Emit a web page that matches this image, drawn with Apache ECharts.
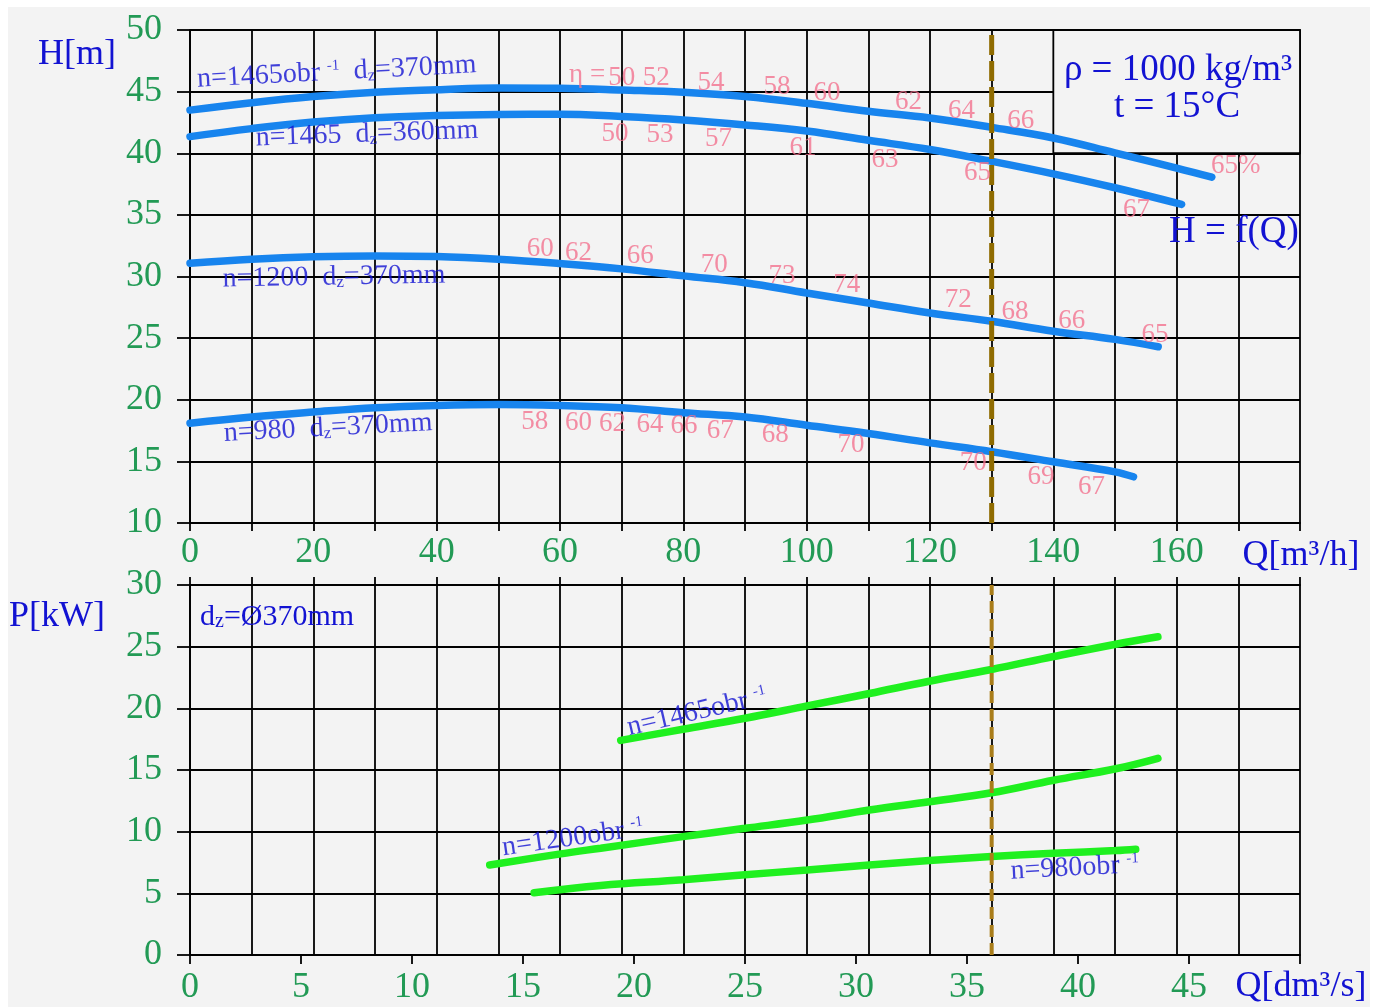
<!DOCTYPE html>
<html>
<head>
<meta charset="utf-8">
<script src="https://cdn.jsdelivr.net/npm/echarts@6/dist/echarts.min.js"></script>
<style>
  html, body { margin: 0; padding: 0; background: #ffffff; }
  #chart { position: absolute; left: 8px; top: 7px; width: 1362px; height: 1000px; background: #f3f3f3; }
</style>
</head>
<body>
<div id="chart"></div>
<script>
// head curves H = f(Q), Q in m3/h
const headQ1465d370 = [0, 10, 20, 30, 40, 50, 60, 70, 80, 90, 100, 110, 120, 130, 140, 150, 160, 165.7]
const headH1465d370 = [43.5, 44.1, 44.6, 44.95, 45.15, 45.3, 45.27, 45.13, 44.95, 44.6, 44.05, 43.4, 42.86, 42.1, 41.24, 40.03, 38.8, 38.06]
const headQ1465d360 = [0, 10, 20, 30, 40, 50, 60, 70, 80, 90, 100, 110, 120, 130, 140, 150, 160.8]
const headH1465d360 = [41.35, 42.0, 42.53, 42.88, 43.06, 43.15, 43.17, 42.98, 42.7, 42.3, 41.8, 41.05, 40.3, 39.35, 38.33, 37.2, 35.85]
const headQ1200 = [0, 10, 20, 30, 40, 50, 60, 70, 80, 90, 100, 110, 120, 130, 140, 150, 157]
const headH1200 = [31.08, 31.4, 31.6, 31.67, 31.62, 31.4, 31.05, 30.62, 30.05, 29.5, 28.66, 27.85, 27.04, 26.37, 25.56, 24.9, 24.3]
const headQ980 = [0, 10, 20, 30, 40, 50, 60, 70, 80, 90, 100, 110, 120, 130, 140, 150, 153]
const headH980 = [18.1, 18.6, 19.0, 19.35, 19.54, 19.62, 19.54, 19.35, 18.95, 18.6, 17.93, 17.26, 16.5, 15.78, 14.97, 14.15, 13.75]

// power curves P = f(Q), Q in dm3/s
const powerQ1465 = [19.4, 22.2, 25, 27.8, 30.6, 33.3, 36.1, 38.9, 41.7, 43.6]
const powerP1465 = [17.4, 18.3, 19.2, 20.2, 21.2, 22.2, 23.15, 24.2, 25.2, 25.8]
const powerQ1200 = [13.5, 16.7, 18.5, 22.2, 25, 27.8, 30.6, 33.3, 36.1, 38.9, 41.7, 43.6]
const powerP1200 = [7.3, 8.2, 8.66, 9.6, 10.27, 10.94, 11.75, 12.42, 13.15, 14.17, 15.1, 15.95]
const powerQ980 = [15.5, 18.5, 22.2, 25, 27.8, 30.6, 33.3, 36.1, 38.9, 41.7, 42.6]
const powerP980 = [5.05, 5.64, 6.1, 6.5, 6.9, 7.3, 7.66, 7.98, 8.25, 8.47, 8.58]

// efficiency marks [Q, H, text]
const etaLabels = [
  [64.4, 46.35, 'η ='], [70, 46.08, '50'], [75.6, 46.08, '52'], [84.5, 45.68, '54'], [95.2, 45.4, '58'],
  [103.3, 44.86, '60'], [116.5, 44.15, '62'], [125.1, 43.45, '64'], [134.7, 42.59, '66'], [169.6, 38.95, '65%'],
  [68.9, 41.54, '50'], [76.2, 41.49, '53'], [85.7, 41.16, '57'], [99.4, 40.4, '61'], [112.7, 39.46, '63'],
  [127.7, 38.41, '65'], [153.5, 35.44, '67'],
  [56.8, 32.21, '60'], [63, 31.94, '62'], [73, 31.67, '66'], [85, 30.95, '70'], [96, 30.05, '73'],
  [106.5, 29.35, '74'], [124.6, 28.1, '72'], [133.8, 27.12, '68'], [143, 26.37, '66'], [156.5, 25.3, '65'],
  [55.9, 18.2, '58'], [63, 18.1, '60'], [68.5, 18.06, '62'], [74.6, 17.92, '64'], [80.1, 17.85, '66'],
  [86, 17.5, '67'], [94.9, 17.12, '68'], [107.2, 16.32, '70'], [127, 14.84, '70'], [138, 13.76, '69'],
  [146.2, 12.96, '67'],
]

// curve names [Q, value, rich text, rotate]
const headCurveNames = [
  [23.8, 46.58, 'n=1465obr {sup|-1}  d{sub|z}=370mm', 3],
  [28.7, 41.55, 'n=1465  d{sub|z}=360mm', 2],
  [23.35, 29.95, 'n=1200  d{sub|z}=370mm', 1],
  [22.4, 17.7, 'n=980  d{sub|z}=370mm', 3],
]
const powerCurveNames = [
  [22.84, 19.7, 'n=1465obr {sup|-1}', 13],
  [17.25, 9.49, 'n=1200obr {sup|-1}', 8],
  [39.86, 7.06, 'n=980obr {sup|-1}', 3],
]

const dutyQ = 130

const font = 'Liberation Serif'
const tickGreen = '#229a55'
const textBlue = '#1212d2'
const curveBlue = '#1784ee'
const powerGreen = '#1ff01f'
const etaPink = '#f2728f'
const gridBlack = '#000000'

const zip = (xs, ys) => xs.map((x, i) => [x, ys[i]])

const richStyles = {
  sup: { fontFamily: font, fontSize: 15, color: textBlue, verticalAlign: 'top', padding: [0, 0, 9, 0] },
  sub: { fontFamily: font, fontSize: 17, color: textBlue, verticalAlign: 'bottom', padding: [8, 0, 0, 0] },
}

function headLine(q, h) {
  return {
    type: 'line', xAxisIndex: 0, yAxisIndex: 0, data: zip(q, h), smooth: 0.4, showSymbol: false,
    lineStyle: { color: curveBlue, width: 7.5, cap: 'round' }, silent: true,
  }
}

function powerLine(q, p) {
  return {
    type: 'line', xAxisIndex: 1, yAxisIndex: 1, data: zip(q, p), smooth: 0.4, showSymbol: false,
    lineStyle: { color: powerGreen, width: 7.5, cap: 'round' }, silent: true,
  }
}

function textSeries(xIdx, yIdx, items, color, size) {
  return {
    type: 'scatter', xAxisIndex: xIdx, yAxisIndex: yIdx, symbolSize: 1, silent: true, z: 6,
    itemStyle: { color: 'transparent' },
    data: items.map(([x, y, text, rot]) => ({ value: [x, y], name: text, label: { rotate: rot || 0 } })),
    label: {
      show: true, position: 'inside', formatter: (p) => p.name,
      color, fontFamily: font, fontSize: size, rich: richStyles,
    },
  }
}

const gridLine = { show: true, lineStyle: { color: gridBlack, width: 1.8 } }
const axisLine = { show: true, lineStyle: { color: gridBlack, width: 1.8 } }
const tickStyle = { color: gridBlack, width: 1.8 }
const labelStyle = { color: tickGreen, fontFamily: font, fontSize: 36 }

const chart = echarts.init(document.getElementById('chart'))
chart.setOption({
  animation: false,
  grid: [
    { left: 182, top: 23, width: 1110, height: 493 },
    { left: 182, top: 578, width: 1110, height: 370 },
  ],
  xAxis: [
    {
      type: 'value', gridIndex: 0, min: 0, max: 180, interval: 10,
      axisLine, splitLine: gridLine,
      axisTick: { show: true, length: 8, lineStyle: tickStyle },
      axisLabel: { ...labelStyle, margin: 12, formatter: (v) => (v % 20 === 0 && v < 180 ? String(v) : '') },
    },
    {
      type: 'value', gridIndex: 1, min: 0, max: 50, interval: 5, position: 'bottom',
      axisLine, splitLine: { show: false },
      axisTick: { show: true, length: 9, lineStyle: tickStyle },
      axisLabel: { ...labelStyle, margin: 15, formatter: (v) => (v < 50 ? String(v) : '') },
    },
    {
      type: 'value', gridIndex: 1, min: 0, max: 180, interval: 10, position: 'top',
      axisLine, splitLine: gridLine,
      axisTick: { show: true, length: 8, lineStyle: tickStyle },
      axisLabel: { show: false },
    },
  ],
  yAxis: [
    {
      type: 'value', gridIndex: 0, min: 10, max: 50, interval: 5,
      axisLine, splitLine: gridLine,
      axisTick: { show: true, length: 13, lineStyle: tickStyle },
      axisLabel: { ...labelStyle, margin: 28 },
    },
    {
      type: 'value', gridIndex: 1, min: 0, max: 30, interval: 5,
      axisLine, splitLine: gridLine,
      axisTick: { show: true, length: 13, lineStyle: tickStyle },
      axisLabel: { ...labelStyle, margin: 28 },
    },
  ],
  graphic: [
    { type: 'text', x: 69, y: 48, style: { text: 'H[m]', fill: textBlue, font: `36px "${font}"`, align: 'center', verticalAlign: 'middle' } },
    { type: 'text', x: 1293, y: 549, style: { text: 'Q[m³/h]', fill: textBlue, font: `36px "${font}"`, align: 'center', verticalAlign: 'middle' } },
    { type: 'text', x: 49, y: 610, style: { text: 'P[kW]', fill: textBlue, font: `36px "${font}"`, align: 'center', verticalAlign: 'middle' } },
    { type: 'text', x: 1293, y: 980, style: { text: 'Q[dm³/s]', fill: textBlue, font: `36px "${font}"`, align: 'center', verticalAlign: 'middle' } },
    { type: 'text', x: 1170, y: 63, z: 10, style: { text: 'ρ = 1000 kg/m³', fill: textBlue, font: `37px "${font}"`, align: 'center', verticalAlign: 'middle' } },
    { type: 'text', x: 1169, y: 100, z: 10, style: { text: 't = 15°C', fill: textBlue, font: `37px "${font}"`, align: 'center', verticalAlign: 'middle' } },
    { type: 'text', x: 1226, y: 225, z: 10, style: { text: 'H = f(Q)', fill: textBlue, font: `37px "${font}"`, align: 'center', verticalAlign: 'middle' } },
    {
      type: 'text', x: 192, y: 610, z: 10,
      style: {
        text: 'd{sub|z}=Ø370mm', fill: textBlue, font: `30px "${font}"`, align: 'left', verticalAlign: 'middle',
        rich: { sub: { fill: textBlue, font: `20px "${font}"`, verticalAlign: 'bottom', padding: [6, 0, 0, 0] } },
      },
    },
  ],
  series: [
    {
      type: 'line', xAxisIndex: 0, yAxisIndex: 0, data: [], silent: true,
      markArea: {
        silent: true,
        itemStyle: { color: '#f3f3f3', borderColor: gridBlack, borderWidth: 1.8 },
        data: [[{ coord: [140, 40] }, { coord: [180, 50] }]],
      },
    },
    headLine(headQ1465d370, headH1465d370),
    headLine(headQ1465d360, headH1465d360),
    headLine(headQ1200, headH1200),
    headLine(headQ980, headH980),
    powerLine(powerQ1465, powerP1465),
    powerLine(powerQ1200, powerP1200),
    powerLine(powerQ980, powerP980),
    {
      type: 'line', xAxisIndex: 0, yAxisIndex: 0, data: [[dutyQ, 10], [dutyQ, 50]], showSymbol: false, silent: true, z: 4,
      lineStyle: { color: '#8f6b00', width: 5, type: [20, 6], cap: 'butt' },
    },
    {
      type: 'line', xAxisIndex: 2, yAxisIndex: 1, data: [[dutyQ, 0], [dutyQ, 30]], showSymbol: false, silent: true, z: 4,
      lineStyle: { color: '#a97d1a', width: 4, type: [12, 6], cap: 'butt' },
    },
    textSeries(0, 0, etaLabels, etaPink, 27),
    textSeries(0, 0, headCurveNames, textBlue, 28),
    textSeries(1, 1, powerCurveNames, textBlue, 28),
  ],
})
</script>
</body>
</html>
